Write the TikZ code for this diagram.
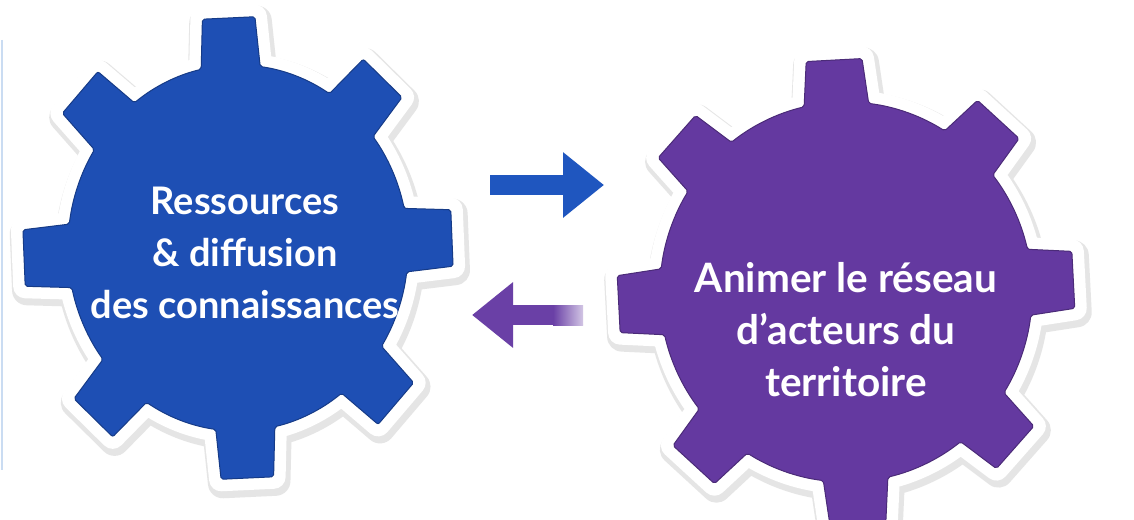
\documentclass[tikz,border=0pt]{standalone}
\usepackage{fontspec}
\newfontfamily\latofont{Lato}
\usetikzlibrary{arrows.meta, calc}

\definecolor{gearblue}{HTML}{1E4FB4}
\definecolor{gearpurple}{HTML}{6439A0}
\definecolor{arrowblue}{HTML}{1F56BF}
\definecolor{arrowpurple}{HTML}{6A40A6}
\definecolor{edgeblue}{HTML}{CADCF2}

\begin{document}
\begin{tikzpicture}[x=1pt, y=1pt, line join=round]
    \tikzset{
        gear path/.style n args={3}{
            insert path={(#1+10:#2)
                \foreach \a in {45,90,...,360}{
                    arc[start angle=\a-35+#1, end angle=\a-10+#1, radius=#2]
                    -- (\a-7+#1:#3) -- (\a+7+#1:#3) -- (\a+10+#1:#2)
                } -- cycle}
        },
        gear shadow/.style={draw=black!10, line width=30pt, shift={(2,-4)}},
        gear border/.style={draw=white, fill=white, line width=24pt},
        gear label/.style={text=white, align=center,
            font=\latofont\bfseries\fontsize{#1}{52}\selectfont},
        fat arrow/.style={line width=20pt, -{Triangle[length=41pt, width=63pt]}}
    };
    \useasboundingbox (0,0) rectangle (1134,-519);
    \fill[white] (0,0) rectangle (1134,-519);
    \draw[edgeblue, line width=2.5pt] (2,-40) -- (2,-470);

    \coordinate (bluegear) at (238,-248);
    \coordinate (purplegear) at (846,-292);

    % gears
    \foreach \g/\gcol/\off/\rb/\rt/\xs in {bluegear/gearblue/2.5/183/232/0.93,
                                           purplegear/gearpurple/3/190/234/0.98}{
        \begin{scope}[shift={(\g)}, xscale=\xs]
            \path[gear shadow, gear path={\off}{\rb}{\rt}];
            \path[gear border, gear path={\off}{\rb}{\rt}];
            \path[fill=\gcol, draw=\gcol!75!black, line width=1pt, rounded corners=2pt,
                gear path={\off}{\rb}{\rt}];
        \end{scope}
    }

    \node[gear label=38] (ressources) at (245,-253) {Ressources\\\& diffusion\\des connaissances};
    \node[gear label=40.5] (reseau) at (846,-330) {Animer le réseau\\d’acteurs du\\territoire};

    % arrows
    \coordinate (fwd tail) at (490,-185);
    \coordinate (fwd tip) at (604,-185);
    \coordinate (back tail) at (583,-315);
    \coordinate (back tip) at (472,-315);
    \draw[fat arrow, arrowblue] (fwd tail) -- (fwd tip);
    \draw[fat arrow, arrowpurple] (back tail) -- (back tip);
    \shade[left color=arrowpurple, right color=arrowpurple!30]
        ($(back tail)+(-30,10)$) rectangle ($(back tail)+(0,-10)$);
\end{tikzpicture}
\end{document}
